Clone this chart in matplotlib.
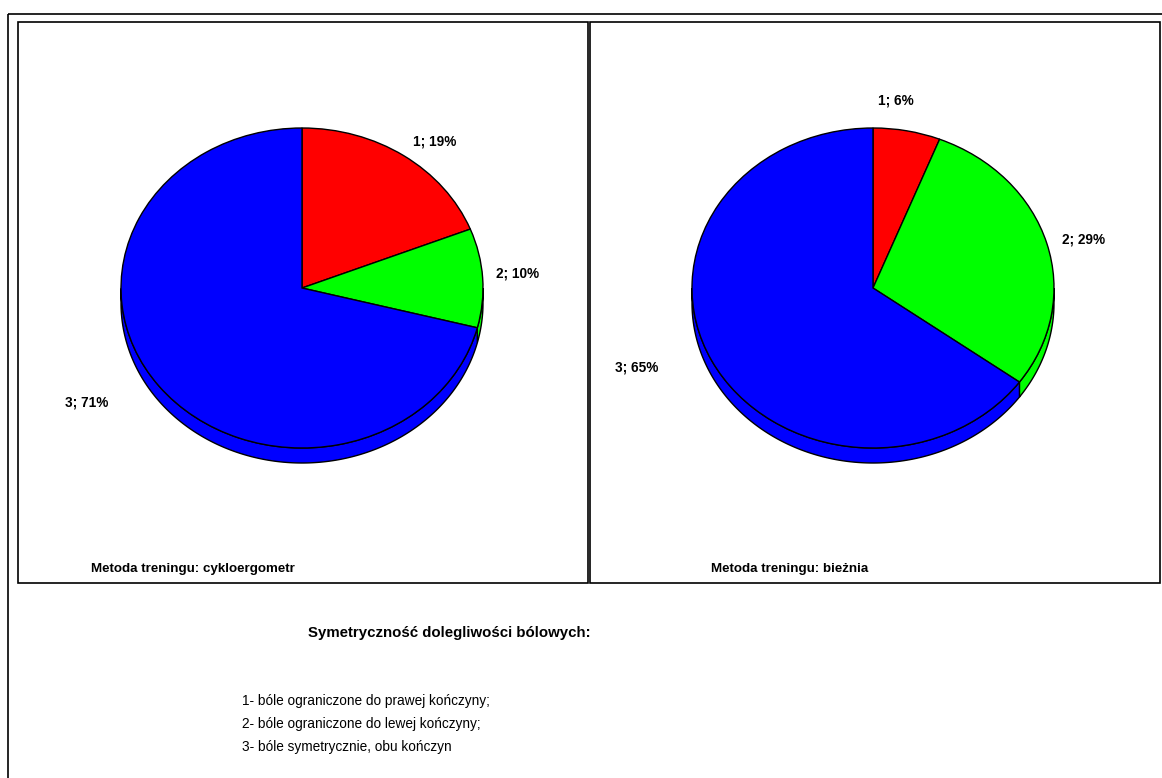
import matplotlib
matplotlib.use('Agg')
import matplotlib.pyplot as plt
from matplotlib.patches import Rectangle, Polygon
import numpy as np

# ---- data ----
categories = ['1', '2', '3']
cyklo_values = [19, 10, 71]
biez_values = [6, 29, 65]
slice_colors = ['#ff0000', '#00ff00', '#0000ff']
panel_titles = ['Metoda treningu: cykloergometr', 'Metoda treningu: bieżnia']
legend_title = 'Symetryczność dolegliwości bólowych:'
legend_lines = ['1- bóle ograniczone do prawej kończyny;',
                '2- bóle ograniczone do lewej kończyny;',
                '3- bóle symetrycznie, obu kończyn']

W, H = 1162, 778
FONT = ['Liberation Sans Narrow', 'Liberation Sans', 'DejaVu Sans']
plt.rcParams['font.family'] = FONT

fig = plt.figure(figsize=(W / 100, H / 100), dpi=100)
fig.patch.set_facecolor('white')

# background axes in pixel coordinates (frames and text)
bg = fig.add_axes([0, 0, 1, 1])
bg.set_xlim(0, W)
bg.set_ylim(H, 0)
bg.axis('off')

bg.add_patch(Rectangle((8, 13.5), W + 20, H + 20, fill=False, lw=1.2, ec='black'))
bg.add_patch(Rectangle((18, 22), 570, 561, fill=False, lw=1.2, ec='black'))
bg.add_patch(Rectangle((590, 22), 570, 561, fill=False, lw=1.2, ec='black'))

RX, RY, DEPTH = 181, 160, 15
EXT = 1.5


def draw_pie(values, cx, cy, label_xy):
    ax = fig.add_axes([(cx - EXT * RX) / W, (H - (cy + EXT * RY)) / H,
                       2 * EXT * RX / W, 2 * EXT * RY / H])
    wedges, _ = ax.pie(values, colors=slice_colors, startangle=90, counterclock=False,
                       wedgeprops=dict(edgecolor='black', linewidth=1.0))
    ax.set_aspect('auto')
    ax.set_xlim(-EXT, EXT)
    ax.set_ylim(-EXT, EXT)
    ax.axis('off')
    d = DEPTH / RY
    for w, col in zip(wedges, slice_colors):
        t = np.radians(np.linspace(w.theta1, w.theta2, 721))
        front = np.sin(t) <= 1e-9
        idx = np.where(front)[0]
        if len(idx) < 2:
            continue
        runs = np.split(idx, np.where(np.diff(idx) > 1)[0] + 1)
        for r in runs:
            if len(r) < 2:
                continue
            tt = t[r]
            xs, ys = np.cos(tt), np.sin(tt)
            poly = np.column_stack([np.concatenate([xs, xs[::-1]]),
                                    np.concatenate([ys, ys[::-1] - d])])
            ax.add_patch(Polygon(poly, closed=True, fc=col, ec='black', lw=1.0, zorder=0))
    for c, v, (lx, ly) in zip(categories, values, label_xy):
        bg.text(lx, ly, f'{c}; {v}%', ha='center', va='center',
                fontsize=9.8, fontweight='bold', color='black')


draw_pie(cyklo_values, 302, 288, [(435, 141), (518, 273), (87, 402)])
draw_pie(biez_values, 873, 288, [(895.5, 100), (1084, 239), (637, 367)])

bg.text(91, 569, panel_titles[0], ha='left', va='center', fontsize=9.6, fontweight='bold')
bg.text(711, 569, panel_titles[1], ha='left', va='center', fontsize=9.6, fontweight='bold')

bg.text(308, 633, legend_title, ha='left', va='center', fontsize=10.8, fontweight='bold')
for i, line in enumerate(legend_lines):
    bg.text(242, 701 + 23 * i, line, ha='left', va='center', fontsize=9.8)

fig.savefig('out.png', dpi=100, facecolor='white')
